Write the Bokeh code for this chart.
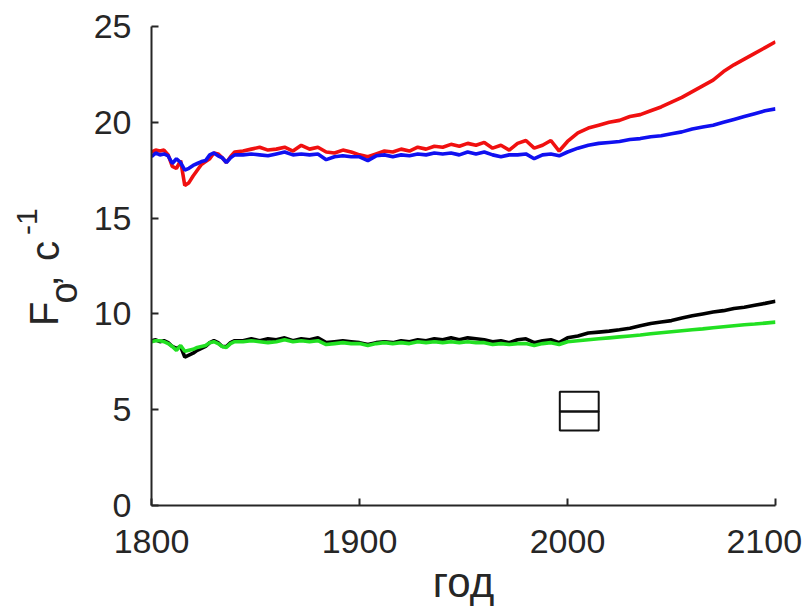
import math
from bokeh.plotting import figure
from bokeh.layouts import row
from bokeh.models import Range1d, FixedTicker, Label, BoxAnnotation
from bokeh.embed import file_html
from bokeh.resources import INLINE

# ---- data ----
years = list(range(1800, 1841, 2)) + list(range(1844, 2001, 4)) + list(range(2005, 2101, 5))

red = [18.45, 18.55, 18.5, 18.55, 18.3, 17.7, 17.6, 18.0, 16.7, 16.85, 17.2,
       17.5, 17.8, 17.95, 18.1, 18.4, 18.35, 18.15, 17.9, 18.2, 18.45,
       18.5, 18.6, 18.7, 18.55, 18.6, 18.7, 18.5, 18.8, 18.6, 18.7,
       18.45, 18.4, 18.55, 18.45, 18.3, 18.2, 18.35, 18.5, 18.45, 18.6,
       18.5, 18.7, 18.6, 18.75, 18.7, 18.85, 18.75, 18.9, 18.8, 18.95,
       18.65, 18.8, 18.55, 18.9, 19.05, 18.65, 18.8, 19.05, 18.5, 19.0,
       19.45, 19.7, 19.85, 20.0, 20.1, 20.3, 20.4, 20.6, 20.8, 21.05,
       21.3, 21.6, 21.9, 22.2, 22.65, 23.0, 23.3, 23.6, 23.9, 24.2]

blue = [18.2, 18.4, 18.3, 18.35, 18.25, 17.85, 18.1, 17.9, 17.5, 17.6, 17.75,
        17.85, 17.95, 18.0, 18.3, 18.4, 18.25, 18.15, 17.9, 18.15, 18.3,
        18.3, 18.35, 18.3, 18.25, 18.35, 18.45, 18.3, 18.35, 18.3, 18.35,
        18.05, 18.2, 18.25, 18.2, 18.2, 18.0, 18.25, 18.3, 18.2, 18.3,
        18.25, 18.35, 18.3, 18.4, 18.35, 18.4, 18.3, 18.45, 18.35, 18.45,
        18.3, 18.2, 18.3, 18.3, 18.35, 18.1, 18.3, 18.35, 18.25, 18.45,
        18.65, 18.8, 18.9, 18.95, 19.0, 19.1, 19.15, 19.25, 19.3, 19.4,
        19.5, 19.65, 19.75, 19.85, 20.0, 20.15, 20.3, 20.45, 20.6, 20.7]

black = [8.6, 8.65, 8.55, 8.6, 8.5, 8.3, 8.2, 8.3, 7.75, 7.85, 7.95,
         8.1, 8.2, 8.3, 8.5, 8.6, 8.5, 8.3, 8.3, 8.5, 8.6,
         8.6, 8.7, 8.6, 8.7, 8.65, 8.75, 8.6, 8.7, 8.65, 8.75,
         8.5, 8.55, 8.6, 8.55, 8.5, 8.4, 8.5, 8.55, 8.5, 8.6,
         8.55, 8.65, 8.6, 8.7, 8.65, 8.75, 8.65, 8.75, 8.7, 8.65,
         8.55, 8.6, 8.5, 8.65, 8.7, 8.5, 8.6, 8.65, 8.5, 8.75,
         8.85, 9.0, 9.05, 9.1, 9.17, 9.25, 9.38, 9.5, 9.58, 9.65,
         9.78, 9.9, 10.0, 10.1, 10.17, 10.28, 10.35, 10.45, 10.55, 10.66]

green = [8.55, 8.6, 8.6, 8.55, 8.45, 8.3, 8.1, 8.35, 8.05, 8.1, 8.15,
         8.25, 8.3, 8.35, 8.5, 8.55, 8.45, 8.3, 8.25, 8.45, 8.55,
         8.55, 8.6, 8.55, 8.5, 8.55, 8.65, 8.55, 8.6, 8.55, 8.6,
         8.4, 8.45, 8.5, 8.45, 8.45, 8.35, 8.45, 8.5, 8.45, 8.5,
         8.45, 8.55, 8.5, 8.55, 8.5, 8.55, 8.5, 8.55, 8.5, 8.5,
         8.4, 8.45, 8.4, 8.45, 8.45, 8.35, 8.45, 8.5, 8.4, 8.55,
         8.6, 8.65, 8.7, 8.75, 8.8, 8.85, 8.9, 8.96, 9.02, 9.07,
         9.12, 9.17, 9.22, 9.28, 9.33, 9.38, 9.43, 9.47, 9.52, 9.57]

x_ticks = [1800, 1900, 2000, 2100]
y_ticks = [0, 5, 10, 15, 20, 25]
x_label = "год"
# y title pieces: F_o, с^-1
y_title = ["F", "o", ",", "с", "-1"]

FONT = "Liberation Sans"
TXT = "#262626"
LAB_W = 90
H = 608
TOP, BOTTOM = 26, 102   # frame margins shared by both panels

# ---- narrow strip that carries the rotated y title ----
lab = figure(width=LAB_W, height=H, output_backend="svg", toolbar_location=None,
             x_range=Range1d(0, LAB_W), y_range=Range1d(BOTTOM, H - TOP),
             x_axis_type=None, y_axis_type=None, min_border_left=0,
             min_border_right=0, min_border_top=TOP, min_border_bottom=BOTTOM)
lab.outline_line_color = None
lab.grid.visible = False
lab.border_fill_color = "white"

# centre of each piece (x, y from bottom of the page, font size)
piece_style = [(43.1, 294.2, "40px"), (63.8, 315.0, "38px"), (43.1, 327.0, "40px"),
               (44.1, 357.0, "40px"), (26.6, 386.5, "30px")]
for t, (xx, yy, fs) in zip(y_title, piece_style):
    lab.add_layout(Label(x=xx, y=yy, text=t, angle=math.pi / 2, text_align="center",
                         text_baseline="middle", text_font=FONT,
                         text_font_size=fs, text_color=TXT))

# ---- main plot ----
p = figure(width=811 - LAB_W, height=H, output_backend="svg", toolbar_location=None,
           x_range=Range1d(1800, 2100), y_range=Range1d(0, 25),
           min_border_left=147 - LAB_W, min_border_right=36, min_border_top=TOP,
           min_border_bottom=BOTTOM)
p.outline_line_color = None
p.grid.visible = False
p.background_fill_color = "white"
p.border_fill_color = "white"

for series, col in [(red, "#f01010"), (blue, "#1010f0"), (black, "#000000"), (green, "#22e022")]:
    p.line(years, series, line_color=col, line_width=3.6)

for ax in (p.xaxis[0], p.yaxis[0]):
    ax.axis_line_color = TXT
    ax.axis_line_width = 2
    ax.major_tick_line_color = TXT
    ax.major_tick_line_width = 2
    ax.major_tick_in = 7
    ax.major_tick_out = 0
    ax.minor_tick_line_color = None
    ax.major_label_text_font = FONT
    ax.major_label_text_font_size = "34px"
    ax.major_label_text_color = TXT

p.xaxis.ticker = FixedTicker(ticks=x_ticks)
p.yaxis.ticker = FixedTicker(ticks=y_ticks)
p.xaxis.major_label_overrides = {2100: "2100\u00a0"}
p.xaxis.major_label_standoff = 16
p.yaxis.major_label_standoff = 20

p.xaxis.axis_label = x_label
p.xaxis.axis_label_text_font = FONT
p.xaxis.axis_label_text_font_size = "42px"
p.xaxis.axis_label_text_font_style = "normal"
p.xaxis.axis_label_text_color = TXT
p.xaxis.axis_label_standoff = -4

# empty legend box
for b, t in [(4.9, 5.94), (3.91, 4.9)]:
    p.add_layout(BoxAnnotation(left=1996.3, right=2015.0, bottom=b, top=t,
                               fill_alpha=0, line_color="#111111", line_alpha=1,
                               line_width=2))

layout = row(lab, p)
open("out.html", "w").write(file_html(layout, INLINE))
